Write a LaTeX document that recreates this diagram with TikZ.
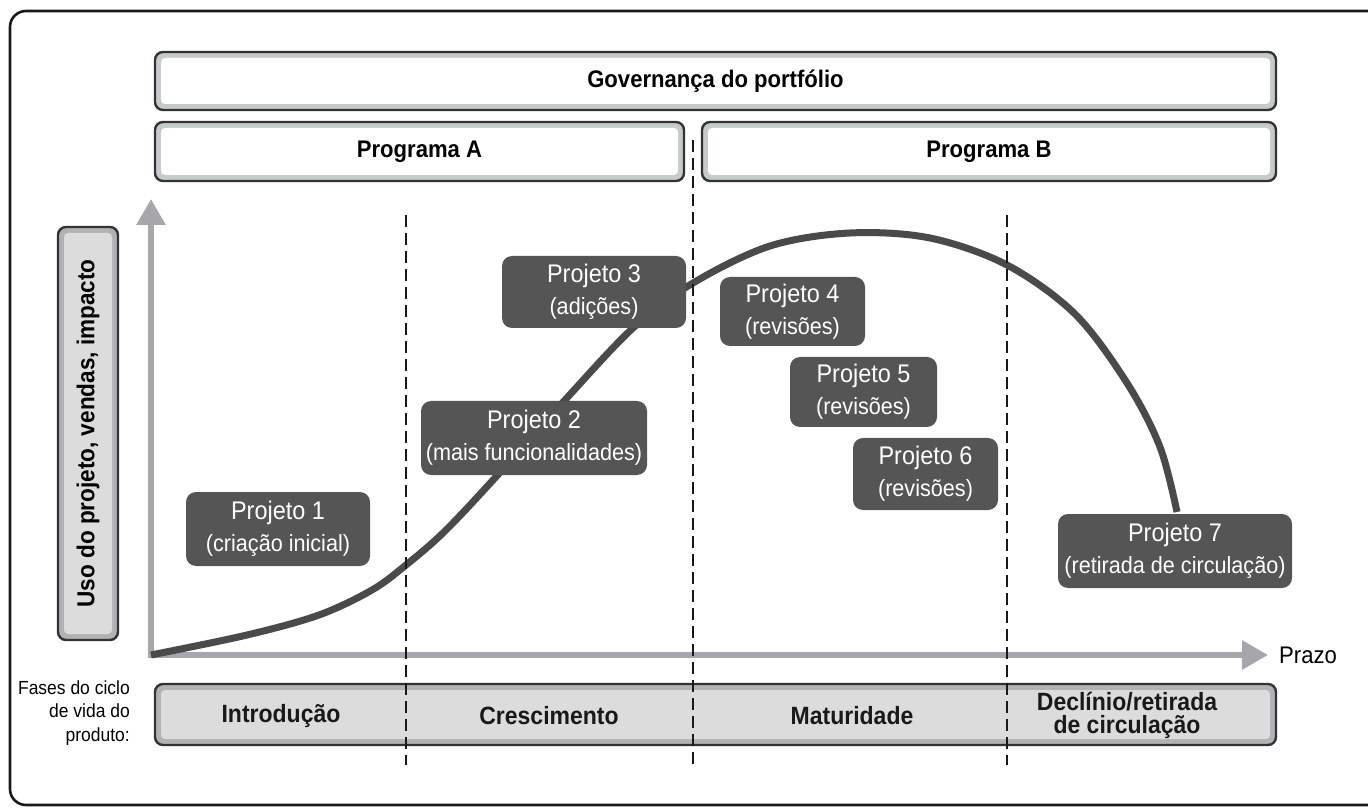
\documentclass[tikz,border=0pt]{standalone}
\usepackage{fontspec}
\setmainfont{Liberation Sans}[FakeStretch=0.92]
\usetikzlibrary{arrows.meta}
\definecolor{dark}{HTML}{333333}
\definecolor{bandA}{HTML}{C6CACA}
\definecolor{bandB}{HTML}{B2B2B4}
\definecolor{fillB}{HTML}{DCDCDC}
\definecolor{axisgray}{HTML}{A7A7AB}
\definecolor{projfill}{HTML}{555555}
\definecolor{curvecol}{HTML}{4A4A4A}
\tikzset{
  bandbox/.style 2 args={draw=dark, line width=2.4pt, rounded corners=8pt, fill=#1,
    inner sep=0pt, outer sep=0pt,
    path picture={\fill[#2, rounded corners=4pt]
      ([shift={(6pt,-6pt)}]path picture bounding box.north west) rectangle
      ([shift={(-6pt,6pt)}]path picture bounding box.south east);}},
  topbox/.style={bandbox={bandA}{white}, font=\bfseries\fontsize{24}{28}\selectfont},
  graybox/.style={bandbox={bandB}{fillB}},
  proj/.style={fill=projfill, rounded corners=10pt, text=white, align=center,
    inner sep=0pt, font=\fontsize{25.5}{32}\selectfont},
  phase/.style={font=\bfseries\fontsize{25}{23}\selectfont, align=center, text=black!90},
  axisline/.style={draw=axisgray, line width=6pt, line join=miter,
    {Triangle[width=28pt,length=26pt]}-{Triangle[width=28pt,length=26pt]}},
  phaseline/.style={draw=black!90, line width=2.4pt, dash pattern=on 12pt off 6pt},
  curveline/.style={draw=curvecol, line width=7pt, line cap=butt}
}
\newcommand{\sublbl}[1]{{\fontsize{23.5}{27}\selectfont #1}}
\begin{document}
\begin{tikzpicture}[x=1pt,y=1pt]
\useasboundingbox (0,0) rectangle (1368,807);
% outer frame
\draw[draw=black!90, line width=2.6pt, rounded corners=16pt] (10,2) rectangle (1420,796);

% top boxes
\node[topbox, minimum width=1121pt, minimum height=58pt] (gov) at (715.5,726) {Governança do portfólio};
\node[topbox, minimum width=529pt, minimum height=59pt] (pa) at (419.5,655.5) {Programa A};
\node[topbox, minimum width=574pt, minimum height=59pt] (pb) at (989,655.5) {Programa B};

% y-axis label box
\node[graybox, minimum width=60pt, minimum height=413pt] (ylbl) at (88,373.5) {};
\node[rotate=90, font=\bfseries\fontsize{24.5}{28}\selectfont] (ytxt) at (ylbl.center) {Uso do projeto, vendas, impacto};

% phase bar
\node[graybox, minimum width=1121pt, minimum height=61pt] (bar) at (715.5,92.5) {};

% axes
\coordinate (orig) at (151,152);
\coordinate (ytip) at (151,608);
\coordinate (xtip) at (1268,152);
\draw[axisline] (ytip) |- (xtip);
\node[anchor=west, font=\fontsize{24}{28}\selectfont, inner sep=0pt] (prazo) at (1279,152) {Prazo};

% curve
\draw[curveline] plot[smooth, tension=0.55] coordinates {
 (151,152) (247,172) (319,192) (372,217) (406,242) (444,275) (494,328) (565,407)
 (633,479) (693,524) (770,561) (850,574) (930,569) (1007,542) (1075,493) (1127,424) (1160,360) (1177,295)};

% projects
\node[proj, minimum width=184pt, minimum height=74pt] (p1) at (278,278) {Projeto 1\\\sublbl{(criação inicial)}};
\node[proj, minimum width=226pt, minimum height=74pt] (p2) at (534,369) {Projeto 2\\\sublbl{(mais funcionalidades)}};
\node[proj, minimum width=184pt, minimum height=72pt] (p3) at (594,515) {Projeto 3\\\sublbl{(adições)}};
\node[proj, minimum width=145pt, minimum height=69pt] (p4) at (792.5,495.5) {Projeto 4\\\sublbl{(revisões)}};
\node[proj, minimum width=147pt, minimum height=70pt] (p5) at (863.5,415) {Projeto 5\\\sublbl{(revisões)}};
\node[proj, minimum width=145pt, minimum height=72pt] (p6) at (925.5,333) {Projeto 6\\\sublbl{(revisões)}};
\node[proj, minimum width=234pt, minimum height=74pt] (p7) at (1175,256) {Projeto 7\\\sublbl{(retirada de circulação)}};

% phase labels
\node[phase] (ph1) at (281,91) {Introdução};
\node[phase] (ph2) at (549,91) {Crescimento};
\node[phase] (ph3) at (852,91) {Maturidade};
\node[phase] (ph4) at (1127,92) {Declínio/retirada\\de circulação};
\node[anchor=east, align=right, font=\fontsize{19}{23.5}\selectfont, inner sep=0pt] (fases) at (130,94) {Fases do ciclo\\de vida do\\produto:};

% dashed phase separators
\coordinate (d1t) at (406,592); \coordinate (d1b) at (406,42);
\coordinate (d2t) at (693,667); \coordinate (d2b) at (693,42);
\coordinate (d3t) at (1007,592); \coordinate (d3b) at (1007,42);
\draw[phaseline] (d1t) -- (d1b);
\draw[phaseline] (d2t) -- (d2b);
\draw[phaseline] (d3t) -- (d3b);
\end{tikzpicture}
\end{document}
